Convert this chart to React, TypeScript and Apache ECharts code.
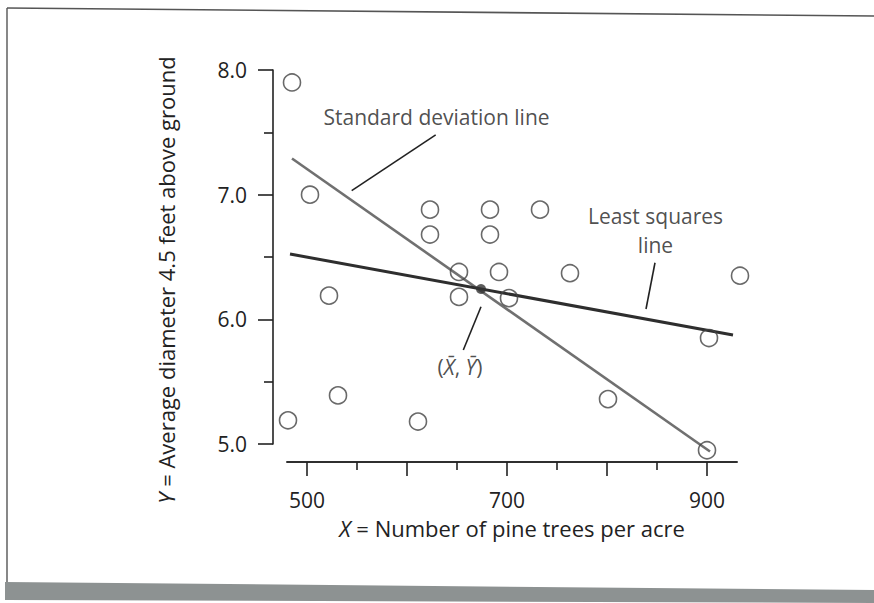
import React, { useEffect, useRef } from "react";
import * as echarts from "echarts";

// Data
const treesPerAcre = [485, 503, 522, 531, 481, 623, 623, 683, 683, 733, 652, 692, 652, 702, 763, 611, 801, 902, 933, 900];
const avgDiameter = [7.9, 7.0, 6.19, 5.39, 5.19, 6.88, 6.68, 6.88, 6.68, 6.88, 6.38, 6.38, 6.18, 6.17, 6.37, 5.18, 5.36, 5.85, 6.35, 4.95];
const meanX = 674;
const meanY = 6.243;
const sdLineX = [485, 903];
const sdLineY = [7.29, 4.94];
const lsLineX = [483, 926];
const lsLineY = [6.524, 5.874];
const xMajorTicks = [500, 600, 700, 800, 900];
const xMinorTicks = [550, 650, 750, 850];
const xTickLabels = [500, 700, 900];
const yTickLabels = [5, 6, 7, 8];

// annotation leaders (data coords)
const sdLeaderX = [544.7, 628.7];
const sdLeaderY = [7.032, 7.479];
const lsLeaderX = [848, 839];
const lsLeaderY = [6.454, 6.083];
const meanLeaderX = [674, 656.3];
const meanLeaderY = [6.101, 5.754];
const annoText = ["Standard deviation line", "Least squares\nline", "({i|X\u0304}, {i|Y\u0304})"];
const annoX = [629.5, 848.5, 653];
const annoY = [7.623, 6.715, 5.618];

const FONT = "Open Sans";
const INK = "#222";

export default function App() {
  const ref = useRef<HTMLDivElement>(null);
  useEffect(() => {
    if (!ref.current) return;
    const chart = echarts.init(ref.current, null, { renderer: "svg" });
    const pair = (xs: number[], ys: number[]) => xs.map((x, i) => [x, ys[i]]);
    const leader = (xs: number[], ys: number[]) => ({
      type: "line",
      data: pair(xs, ys),
      showSymbol: false,
      symbol: "none",
      clip: false,
      lineStyle: { color: "#222", width: 1.6 },
      z: 3,
    });
    const xBase = {
      type: "value",
      min: 480,
      max: 930,
      position: "bottom",
      offset: 18,
      splitLine: { show: false },
      axisLine: { show: true, lineStyle: { color: "#222", width: 1.6 } },
    };
    chart.setOption({
      animation: false,
      backgroundColor: "#fff",
      grid: { left: 287, right: 137, top: 70, bottom: 159 },
      xAxis: [
        {
          ...xBase,
          axisTick: { show: true, customValues: xMinorTicks, length: 8, lineStyle: { color: "#222", width: 1.6 } },
          axisLabel: { show: false },
        },
        {
          ...xBase,
          axisTick: { show: true, customValues: xMajorTicks, length: 14, lineStyle: { color: "#222", width: 1.6 } },
          axisLabel: {
            show: true,
            customValues: xTickLabels,
            margin: 27,
            fontFamily: FONT,
            fontSize: 21,
            color: INK,
          },
          name: "{i|X} = Number of pine trees per acre",
          nameLocation: "middle",
          nameGap: 55,
          nameTextStyle: {
            fontFamily: FONT,
            fontSize: 22,
            color: INK,
            rich: { i: { fontFamily: FONT, fontSize: 22, fontStyle: "italic", color: INK } },
          },
        },
      ],
      yAxis: {
        type: "value",
        min: 5,
        max: 8,
        interval: 1,
        position: "left",
        offset: 14,
        splitLine: { show: false },
        axisLine: { show: true, lineStyle: { color: "#222", width: 1.6 } },
        axisTick: { show: true, length: 15, lineStyle: { color: "#222", width: 1.6 } },
        minorTick: { show: true, splitNumber: 2, length: 9, lineStyle: { color: "#222", width: 1.6 } },
        axisLabel: {
          margin: 26,
          fontFamily: FONT,
          fontSize: 21,
          color: INK,
          formatter: (v: number) => (yTickLabels.includes(v) ? v.toFixed(1) : ""),
        },
      },
      series: [
        {
          type: "line",
          data: pair(sdLineX, sdLineY),
          showSymbol: false,
          symbol: "none",
          clip: false,
          lineStyle: { color: "#707070", width: 2.6 },
          z: 2,
        },
        {
          type: "line",
          data: pair(lsLineX, lsLineY),
          showSymbol: false,
          symbol: "none",
          clip: false,
          lineStyle: { color: "#2e2e2e", width: 3 },
          z: 2,
        },
        leader(sdLeaderX, sdLeaderY),
        leader(lsLeaderX, lsLeaderY),
        leader(meanLeaderX, meanLeaderY),
        {
          type: "scatter",
          data: pair(treesPerAcre, avgDiameter),
          symbol: "circle",
          symbolSize: 17,
          clip: false,
          itemStyle: { color: "rgba(0,0,0,0)", borderColor: "#444", borderWidth: 1.6 },
          z: 4,
        },
        {
          type: "scatter",
          data: [[meanX, meanY]],
          symbolSize: 10,
          clip: false,
          itemStyle: { color: "#333" },
          z: 5,
        },
        {
          type: "scatter",
          data: annoX.map((x, i) => ({ value: [x, annoY[i]], name: annoText[i] })),
          symbolSize: 0,
          clip: false,
          label: {
            show: true,
            position: "inside",
            formatter: (p: any) => p.name,
            fontFamily: FONT,
            fontSize: 21,
            color: INK,
            lineHeight: 29,
            align: "center",
            rich: { i: { fontFamily: FONT, fontSize: 21, fontStyle: "italic", color: INK, lineHeight: 29 } },
          },
          z: 6,
        },
      ],
      graphic: [
        {
          type: "line",
          shape: { x1: 7, y1: 8, x2: 874, y2: 16 },
          style: { stroke: "#555", lineWidth: 1.6 },
        },
        {
          type: "line",
          shape: { x1: 7, y1: 8, x2: 7, y2: 583 },
          style: { stroke: "#555", lineWidth: 1.4 },
        },
        {
          type: "polygon",
          shape: { points: [[5, 582], [874, 590], [874, 603], [5, 600]] },
          style: { fill: "#8d9292" },
        },
        {
          type: "text",
          x: 166,
          y: 280,
          rotation: Math.PI / 2,
          style: {
            text: "{i|Y} = Average diameter 4.5 feet above ground",
            fontFamily: FONT,
            fontSize: 22,
            fill: INK,
            align: "center",
            verticalAlign: "middle",
            rich: { i: { fontFamily: FONT, fontSize: 22, fontStyle: "italic", fill: INK } },
          },
        },
      ],
    });
    return () => chart.dispose();
  }, []);
  return (
    <div
      ref={ref}
      style={{ position: "absolute", left: 0, top: 0, width: 874, height: 603, background: "#fff" }}
    />
  );
}
